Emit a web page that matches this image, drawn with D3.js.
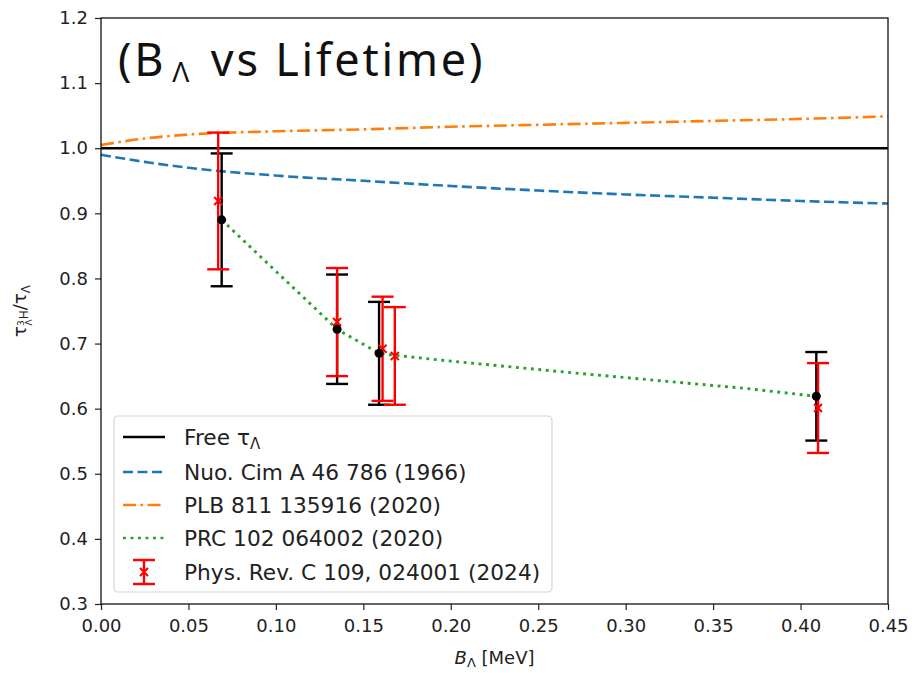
<!DOCTYPE html>
<html>
<head>
<meta charset="utf-8">
<script src="https://cdn.jsdelivr.net/npm/d3@7"></script>
<style>
  body { margin: 0; background: #fff; }
  svg { font-family: "DejaVu Sans", sans-serif; }
</style>
</head>
<body>
<div id="graph"></div>
<script>
// model curves
const curveX = [0, 0.025, 0.05, 0.10, 0.15, 0.20, 0.25, 0.30, 0.35, 0.40, 0.45];
const nuoCim = [0.990, 0.979, 0.970, 0.958, 0.950, 0.942, 0.935, 0.929, 0.924, 0.919, 0.915];
const plb = [1.005, 1.015, 1.021, 1.026, 1.029, 1.033, 1.036, 1.039, 1.042, 1.045, 1.049];

// PRC 102 064002 curve
const prcX = [0.069, 0.135, 0.159, 0.168, 0.20, 0.274, 0.369, 0.409];
const prcY = [0.890, 0.722, 0.685, 0.682, 0.673, 0.654, 0.631, 0.619];

// black points with errors
const blackX = [0.069, 0.135, 0.159, 0.409];
const blackY = [0.890, 0.722, 0.685, 0.619];
const blackErr = [0.102, 0.084, 0.079, 0.068];

// Phys. Rev. C 109, 024001 (2024)
const redX = [0.067, 0.135, 0.161, 0.168, 0.410];
const redY = [0.919, 0.733, 0.692, 0.681, 0.601];
const redErr = [0.105, 0.083, 0.080, 0.075, 0.069];

const xTicks = [0, 0.05, 0.10, 0.15, 0.20, 0.25, 0.30, 0.35, 0.40, 0.45];
const yTicks = [0.3, 0.4, 0.5, 0.6, 0.7, 0.8, 0.9, 1.0, 1.1, 1.2];

const legendLabels = ["Nuo. Cim A 46 786 (1966)", "PLB 811 135916 (2020)",
  "PRC 102 064002 (2020)", "Phys. Rev. C 109, 024001 (2024)"];

const margin = {top: 18, right: 24, bottom: 69, left: 101},
    width = 912 - margin.left - margin.right,
    height = 673 - margin.top - margin.bottom;

const root = d3.select("#graph")
  .append("svg")
    .attr("width", 912)
    .attr("height", 673);

const svg = root.append("g")
    .attr("transform", `translate(${margin.left},${margin.top})`);

const x = d3.scaleLinear().domain([0, 0.45]).range([0, width]);
const y = d3.scaleLinear().domain([0.3, 1.2]).range([height, 0]);

svg.append("g")
    .attr("transform", `translate(0,${height})`)
    .call(d3.axisBottom(x).tickValues(xTicks).tickFormat(d3.format(".2f")).tickSize(6).tickPadding(9))
    .call(g => g.select(".domain").remove())
    .call(g => g.selectAll("text").attr("font-size", 18).attr("fill", "#222").attr("font-family", "DejaVu Sans"));

svg.append("g")
    .call(d3.axisLeft(y).tickValues(yTicks).tickFormat(d3.format(".1f")).tickSize(6).tickPadding(7))
    .call(g => g.select(".domain").remove())
    .call(g => g.selectAll("text").attr("font-size", 18).attr("fill", "#222").attr("font-family", "DejaVu Sans"));

svg.selectAll(".tick line").attr("stroke", "#222").attr("stroke-width", 1.2);

const line = d3.line().x(d => x(d[0])).y(d => y(d[1]));
const smooth = d3.line().x(d => x(d[0])).y(d => y(d[1])).curve(d3.curveMonotoneX);

// free lambda
svg.append("path")
    .datum([[0, 1], [0.45, 1]])
    .attr("fill", "none").attr("stroke", "black").attr("stroke-width", 2.6)
    .attr("d", line);

svg.append("path")
    .datum(d3.zip(curveX, nuoCim))
    .attr("fill", "none").attr("stroke", "#1f77b4").attr("stroke-width", 2.6)
    .attr("stroke-dasharray", "10,4.5")
    .attr("d", smooth);

svg.append("path")
    .datum(d3.zip(curveX, plb))
    .attr("fill", "none").attr("stroke", "#ff7f0e").attr("stroke-width", 2.6)
    .attr("stroke-dasharray", "13,4.5,2.6,4.5")
    .attr("d", smooth);

svg.append("path")
    .datum(d3.zip(prcX, prcY))
    .attr("fill", "none").attr("stroke", "#2ca02c").attr("stroke-width", 2.9)
    .attr("stroke-dasharray", "2.9,4.6")
    .attr("d", line);

function errorBars(xs, ys, es, color) {
  const g = svg.append("g");
  const data = d3.zip(xs, ys, es);
  g.selectAll(".bar").data(data).join("line")
      .attr("x1", d => x(d[0])).attr("x2", d => x(d[0]))
      .attr("y1", d => y(d[1] + d[2])).attr("y2", d => y(d[1] - d[2]))
      .attr("stroke", color).attr("stroke-width", 2.4);
  [1, -1].forEach(s => {
    g.selectAll(null).data(data).join("line")
        .attr("x1", d => x(d[0]) - 11).attr("x2", d => x(d[0]) + 11)
        .attr("y1", d => y(d[1] + s * d[2])).attr("y2", d => y(d[1] + s * d[2]))
        .attr("stroke", color).attr("stroke-width", 2.4);
  });
  return g;
}

errorBars(blackX, blackY, blackErr, "black");
const red = errorBars(redX, redY, redErr, "red");
red.selectAll(".mk").data(d3.zip(redX, redY)).join("path")
    .attr("d", d => {
      const cx = x(d[0]), cy = y(d[1]), r = 4;
      return `M${cx - r},${cy - r}L${cx + r},${cy + r}M${cx - r},${cy + r}L${cx + r},${cy - r}`;
    })
    .attr("stroke", "red").attr("stroke-width", 2);

svg.append("g").selectAll("circle").data(d3.zip(blackX, blackY)).join("circle")
    .attr("cx", d => x(d[0])).attr("cy", d => y(d[1])).attr("r", 4.5)
    .attr("fill", "black");

// frame
svg.append("rect")
    .attr("width", width).attr("height", height)
    .attr("fill", "none").attr("stroke", "#111").attr("stroke-width", 1.3);

// title inside plot
const title = root.append("text")
    .attr("x", 118).attr("y", 76)
    .attr("font-family", "Noto Sans, sans-serif")
    .attr("font-size", 45)
    .attr("letter-spacing", 2.8)
    .attr("fill", "#111");
title.append("tspan").text("(B");
title.append("tspan").attr("font-size", 28).attr("dy", 6).attr("dx", 6).text("Λ");
title.append("tspan").attr("dy", -6).attr("dx", 4).text(" vs Lifetime)");

// legend
const leg = root.append("g");
leg.append("rect")
    .attr("x", 114).attr("y", 416).attr("width", 438).attr("height", 176)
    .attr("rx", 4).attr("fill", "white").attr("fill-opacity", 0.85)
    .attr("stroke", "#d5d5d5").attr("stroke-width", 1.2);

const rows = [437, 472, 505, 538, 572];
const styles = [
  {stroke: "black", dash: null},
  {stroke: "#1f77b4", dash: "10,4.5"},
  {stroke: "#ff7f0e", dash: "13,4.5,2.6,4.5"},
  {stroke: "#2ca02c", dash: "2.9,4.6"}
];
styles.forEach((s, i) => {
  leg.append("line")
      .attr("x1", 123).attr("x2", 165).attr("y1", rows[i]).attr("y2", rows[i])
      .attr("stroke", s.stroke).attr("stroke-width", 2.6)
      .attr("stroke-dasharray", s.dash);
});
// errorbar handle
const hx = 144, hy = rows[4];
leg.append("line").attr("x1", hx).attr("x2", hx).attr("y1", hy - 12).attr("y2", hy + 12)
    .attr("stroke", "red").attr("stroke-width", 2.4);
[-12, 12].forEach(o => leg.append("line")
    .attr("x1", hx - 11).attr("x2", hx + 11).attr("y1", hy + o).attr("y2", hy + o)
    .attr("stroke", "red").attr("stroke-width", 2.4));
leg.append("path")
    .attr("d", `M${hx - 4},${hy - 4}L${hx + 4},${hy + 4}M${hx - 4},${hy + 4}L${hx + 4},${hy - 4}`)
    .attr("stroke", "red").attr("stroke-width", 2);

const free = leg.append("text").attr("x", 184).attr("y", rows[0] + 8)
    .attr("font-size", 21.7).attr("fill", "#222");
free.append("tspan").text("Free τ");
free.append("tspan").attr("font-size", 15).attr("dy", 4).text("Λ");

legendLabels.forEach((t, i) => {
  leg.append("text").attr("x", 184).attr("y", rows[i + 1] + 8)
      .attr("font-size", 21.7).attr("fill", "#222").text(t);
});

// axis labels
const xl = root.append("text")
    .attr("x", margin.left + width / 2).attr("y", 664)
    .attr("text-anchor", "middle").attr("font-size", 18).attr("fill", "#222");
xl.append("tspan").attr("font-style", "italic").text("B");
xl.append("tspan").attr("font-size", 13).attr("dy", 3).text("Λ");
xl.append("tspan").attr("dy", -3).text(" [MeV]");

const yl = root.append("text")
    .attr("transform", `translate(26,${margin.top + height / 2}) rotate(-90)`)
    .attr("text-anchor", "middle").attr("font-size", 18).attr("fill", "#222");
yl.append("tspan").text("τ");
yl.append("tspan").attr("font-size", 9).attr("dy", -2).text("3");
yl.append("tspan").attr("font-size", 9).attr("dx", -5).attr("dy", 8).text("Λ");
yl.append("tspan").attr("font-size", 12).attr("dy", -4).text("H");
yl.append("tspan").attr("dy", -2).text("/τ");
yl.append("tspan").attr("font-size", 12).attr("dy", 4).text("Λ");
</script>
</body>
</html>
